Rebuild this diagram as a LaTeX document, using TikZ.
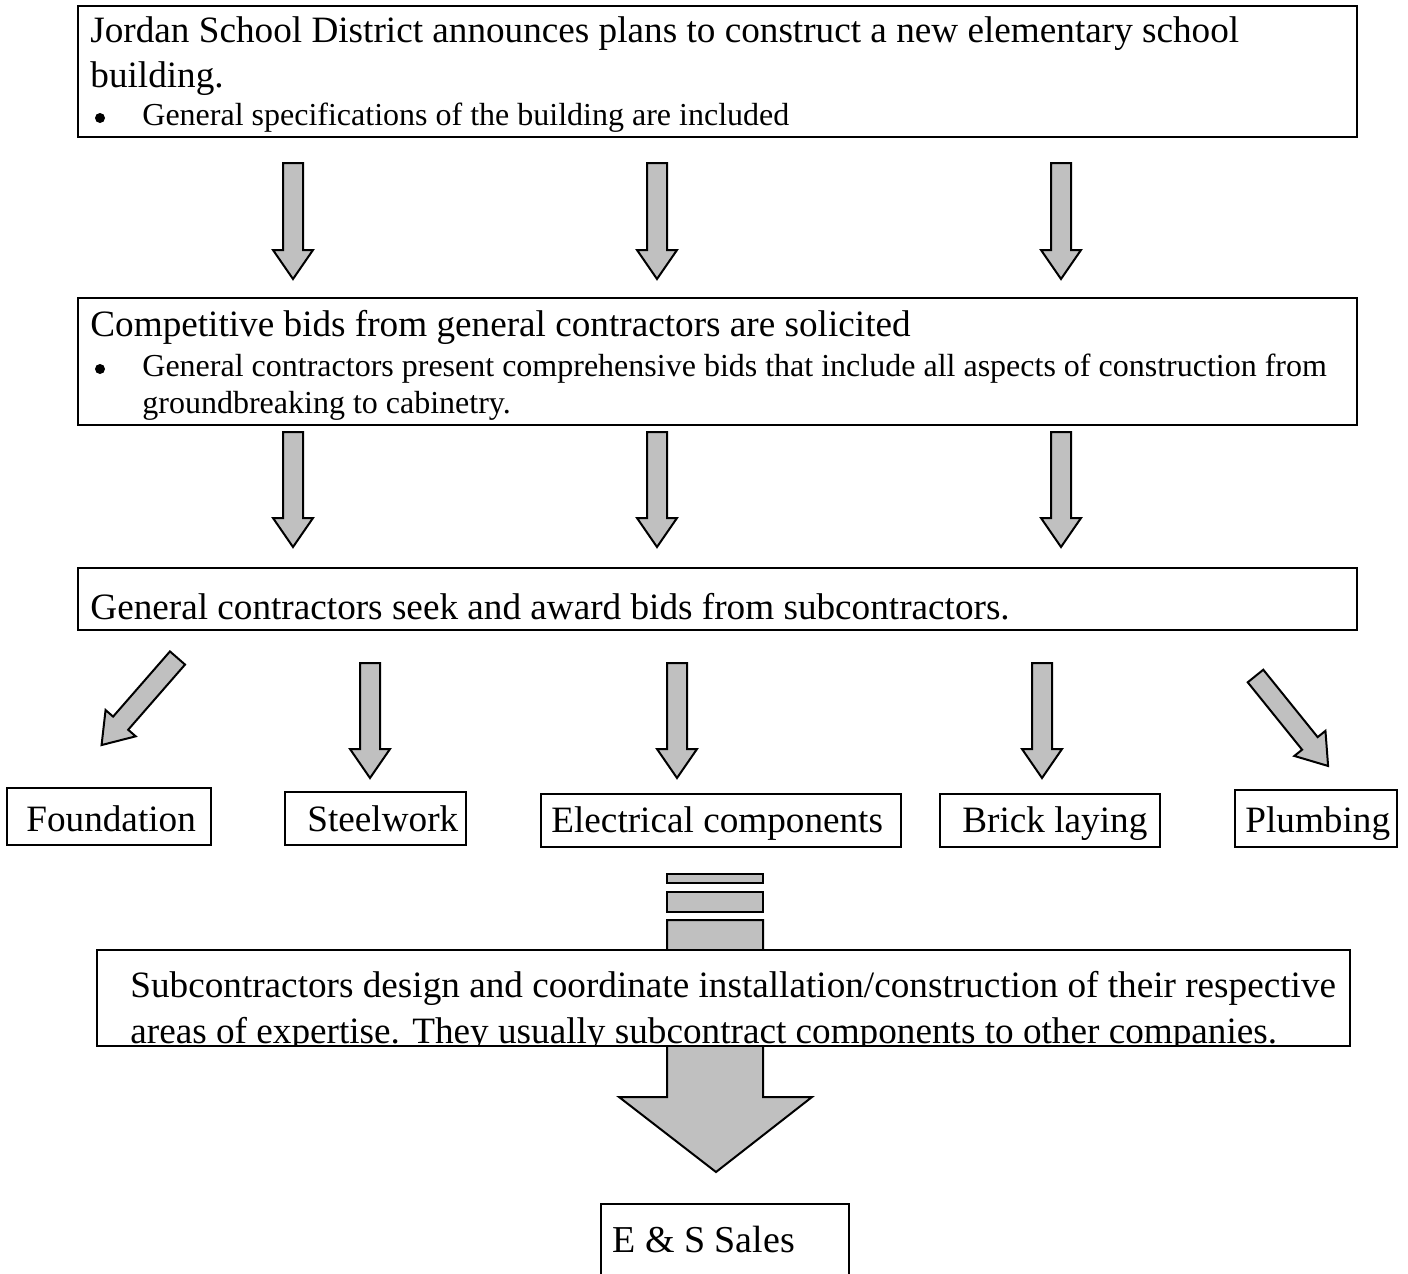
\documentclass[tikz,border=0pt]{standalone}
\usepackage{fontspec}
\setmainfont{Liberation Serif}
\definecolor{arrowgray}{RGB}{192,192,192}
\newcommand{\mainsize}{\fontsize{18.6}{22.5}\selectfont}
\newcommand{\bulletsize}{\fontsize{16}{18.4}\selectfont}
% block arrow: start point, angle, length
\newcommand{\blockarrow}[3]{%
  \draw[barrow,shift={#1},rotate=#2] (0,-10)--(#3-29,-10)--(#3-29,-20)--(#3,0)--(#3-29,20)--(#3-29,10)--(0,10)--cycle;}
\begin{document}
\begin{tikzpicture}[x=0.5pt,y=-0.5pt,line join=miter,
  box/.style={draw,line width=1pt},
  barrow/.style={draw,fill=arrowgray,line width=1pt},
  txt/.style={anchor=base west,inner sep=0pt,font=\mainsize},
  bul/.style={anchor=base west,inner sep=0pt,font=\bulletsize},
  dot/.style={circle,fill,inner sep=0pt,minimum size=5pt}]
\useasboundingbox (0,0) rectangle (1408,1274);
% district announcement
\draw[box] (78,6) rectangle (1357,137);
\node[txt] (plan1) at (90,42) {Jordan School District announces plans to construct a new elementary school};
\node[txt] (plan2) at (90,87) {building.};
\node[dot] (dot1) at (100,118) {};
\node[bul] (spec) at (142,125) {General specifications of the building are included};
\foreach \xx in {293,657,1061} {\blockarrow{(\xx,163)}{-90}{116}}
% bids from general contractors
\draw[box] (78,298) rectangle (1357,425);
\node[txt] (bids) at (90,336) {Competitive bids from general contractors are solicited};
\node[dot] (dot2) at (100,369) {};
\node[bul] (comp1) at (142,376) {General contractors present comprehensive bids that include all aspects of construction from};
\node[bul] (comp2) at (142,413) {groundbreaking to cabinetry.};
\foreach \xx in {293,657,1061} {\blockarrow{(\xx,432)}{-90}{115}}
% subcontractors
\draw[box] (78,568) rectangle (1357,630);
\node[txt] (seek) at (90,619) {General contractors seek and award bids from subcontractors.};
\blockarrow{(177.5,658)}{-131.1}{115.5}
\foreach \xx in {370,677,1042} {\blockarrow{(\xx,663)}{-90}{115}}
\blockarrow{(1255.5,676)}{-51.1}{115.6}
% trades
\draw[box] (7,788) rectangle (211,845);
\node[txt] (found) at (26,831) {Foundation};
\draw[box] (285,792) rectangle (466,845);
\node[txt] (steel) at (307,831) {Steelwork};
\draw[box] (541,794) rectangle (901,847);
\node[txt] (elec) at (551,832) {Electrical components};
\draw[box] (940,794) rectangle (1160,847);
\node[txt] (brick) at (962,832) {Brick laying};
\draw[box] (1235,790) rectangle (1397,847);
\node[txt] (plumb) at (1245,832) {Plumbing};
% big arrow
\draw[barrow] (667,874) rectangle (763,883);
\draw[barrow] (667,892) rectangle (763,912);
\draw[barrow] (667,920)--(763,920)--(763,1097)--(812,1097)--(716,1172)--(619,1097)--(667,1097)--cycle;
\draw[box,fill=white] (97,950) rectangle (1350,1046);
\begin{scope}
\clip (97,950) rectangle (1350,1046);
\node[txt] (design1) at (130,997) {Subcontractors design and coordinate installation/construction of their respective};
\node[txt] (design2) at (130,1043) {areas of expertise. They usually subcontract components to other companies.};
\end{scope}
\draw[box] (97,950) rectangle (1350,1046);
% supplier
\draw[box] (601,1290)--(601,1204)--(849,1204)--(849,1290);
\node[txt,font=\fontsize{19}{22}\selectfont] (sales) at (612,1252) {E \& S Sales};
\end{tikzpicture}
\end{document}
